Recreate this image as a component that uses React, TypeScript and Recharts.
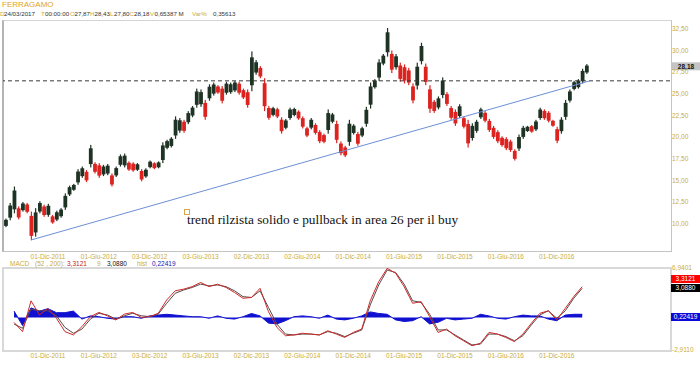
import React from 'react';
import { ComposedChart, Bar, Line, Area, XAxis, YAxis, ReferenceLine } from 'recharts';

// date ticks, one every half year (index = half-month step from July 2011)
const dateTicks = [10, 22, 34, 46, 58, 70, 82, 94, 106, 118, 130];
const dateLabels = [
  '01-Dic-2011', '01-Giu-2012', '03-Dic-2012', '03-Giu-2013', '02-Dic-2013', '02-Giu-2014',
  '01-Dic-2014', '01-Giu-2015', '01-Dic-2015', '01-Giu-2016', '01-Dic-2016'
];

const priceTicks = [10, 12.5, 15, 17.5, 20, 22.5, 25, 27.5, 30, 32.5];

const lows = [
  9.6, 10.4, 11.2, 10.5, 11.4, 11.2, 8.1, 8.5, 11.2, 10.8,
  10.8, 10.0, 10.3, 10.7, 11.6, 13.2, 13.8, 14.5, 15.3, 14.8,
  16.5, 15.8, 15.3, 15.5, 15.6, 14.3, 15.4, 16.6, 16.5, 16.1,
  16.0, 16.1, 14.9, 15.3, 16.4, 16.3, 16.4, 17.0, 18.6, 18.8,
  19.8, 20.5, 20.5, 21.5, 22.3, 23.4, 23.5, 22.0, 24.2, 24.8,
  25.0, 23.9, 24.9, 25.0, 25.2, 24.9, 24.4, 23.4, 25.3, 27.2,
  26.8, 23.0, 22.0, 22.4, 22.2, 20.4, 20.9, 22.0, 22.4, 22.0,
  21.0, 20.0, 20.9, 20.3, 19.3, 19.3, 20.4, 21.6, 19.3, 17.9,
  17.7, 19.0, 20.3, 19.0, 20.0, 21.2, 23.3, 25.6, 26.5, 28.3,
  29.3, 27.4, 27.8, 26.4, 26.2, 26.0, 23.9, 25.5, 28.4, 26.0,
  22.8, 22.8, 23.2, 24.5, 23.6, 22.0, 21.3, 22.2, 21.0, 18.8,
  19.6, 20.5, 22.1, 21.7, 20.6, 19.8, 19.3, 18.9, 18.5, 18.3,
  17.3, 18.4, 19.8, 20.6, 20.5, 20.7, 22.0, 22.0, 21.7, 21.2,
  19.3, 20.4, 22.0, 24.0, 25.4, 25.6, 26.2, 27.3
];
const highs = [
  10.6, 12.4, 14.3, 12.0, 12.5, 12.4, 11.4, 11.8, 12.6, 12.2,
  12.3, 11.0, 11.5, 11.8, 13.5, 14.4, 14.6, 16.3, 16.6, 16.2,
  19.1, 17.1, 17.0, 16.8, 16.9, 15.8, 16.6, 18.0, 18.1, 17.2,
  17.1, 17.0, 16.3, 16.4, 17.3, 17.1, 17.2, 19.4, 19.7, 20.0,
  22.4, 22.2, 22.0, 23.0, 23.6, 25.6, 25.5, 24.3, 26.1, 26.3,
  26.0, 25.9, 26.4, 26.3, 26.5, 26.4, 25.6, 25.5, 29.9, 28.9,
  28.2, 26.8, 23.6, 23.5, 23.4, 22.3, 22.1, 23.4, 23.4, 23.1,
  22.4, 21.2, 22.2, 21.6, 20.8, 20.4, 23.2, 22.8, 21.9, 19.5,
  19.0, 22.0, 21.5, 20.6, 21.2, 23.5, 26.3, 26.7, 29.0, 29.6,
  32.6, 30.0, 29.6, 28.6, 28.4, 28.0, 26.2, 28.6, 30.9, 28.5,
  26.0, 24.3, 24.7, 26.9, 25.2, 23.6, 23.2, 23.8, 22.4, 22.0,
  21.6, 22.0, 23.4, 23.0, 22.1, 21.3, 20.8, 20.1, 20.0, 19.7,
  18.6, 20.3, 21.3, 21.3, 21.4, 22.0, 23.4, 23.2, 23.0, 22.0,
  21.2, 22.3, 24.3, 25.5, 26.5, 26.7, 27.9, 28.43
];

const lastClose = 28.18;
const pullbackLevel = 26.5;
const trendStart = { x: 6, y: 8.12 };
const trendEnd = { x: 137.8, y: 26.5 };

const macdIdx = [
  2, 4, 6, 8, 10, 12, 14, 16, 18, 20, 22, 24, 26, 28, 30, 32, 34, 36, 38, 40,
  42, 44, 46, 48, 50, 52, 54, 56, 58, 60, 62, 64, 66, 68, 70, 72, 74, 76, 78, 80,
  82, 84, 86, 88, 90, 92, 94, 96, 98, 100, 102, 104, 106, 108, 110, 112, 114, 116, 118, 120,
  122, 124, 126, 128, 130, 132, 134, 136
];
const macdVals = [
  0.4, -0.7, 3.0, 1.3, 2.1, 0.9, -0.7, -1.1, -0.1, 1.1,
  1.6, 1.2, 0.7, 1.4, 1.6, 1.0, 1.1, 1.5, 3.1, 4.2,
  4.4, 4.7, 5.2, 4.7, 5.0, 4.6, 4.0, 3.3, 3.4, 4.5,
  1.7, -0.2, -1.2, -1.1, -0.9, -1.0, -1.1, -0.6, -1.0, -1.4,
  -0.8, -0.4, 3.0, 5.3, 6.9, 6.3, 4.7, 2.7, 2.9, 1.1,
  -0.8, -0.4, -1.2, -1.8, -2.4, -2.1, -0.8, -1.0, -1.4, -1.9,
  -1.0, 0.3, 1.5, 1.8, 0.7, 2.1, 3.5, 4.7
];
const signalVals = [
  0.2, -0.3, 2.0, 1.8, 1.8, 1.2, -0.2, -0.9, -0.4, 0.8,
  1.5, 1.3, 0.8, 1.2, 1.5, 1.2, 1.1, 1.4, 2.7, 3.9,
  4.3, 4.6, 5.0, 4.8, 4.9, 4.7, 4.2, 3.5, 3.4, 4.2,
  2.2, 0.2, -1.0, -1.1, -1.0, -1.0, -1.1, -0.7, -0.9, -1.3,
  -0.9, -0.5, 2.5, 4.9, 6.7, 6.4, 5.0, 3.0, 2.8, 1.4,
  -0.5, -0.5, -1.1, -1.7, -2.3, -2.2, -1.0, -1.0, -1.3, -1.8,
  -1.2, 0.1, 1.3, 1.8, 0.9, 1.8, 3.3, 4.5
];
const histVals = [
  0.4, -0.5, 0.6, 0.4, 0.55, 0.3, 0.3, 0.4, -0.1, 0.1,
  0.05, -0.05, -0.1, 0.05, 0.05, -0.05, 0.1, 0.15, 0.2, 0.15,
  0.1, 0.05, 0.05, -0.05, 0.1, -0.05, -0.1, 0.05, 0.25, 0.1,
  -0.35, -0.4, -0.2, 0.05, 0.1, 0.05, -0.05, 0.15, -0.1, -0.15,
  -0.05, 0.1, 0.35, 0.25, 0.2, -0.15, -0.25, -0.2, 0.05, -0.4,
  -0.3, -0.05, -0.15, -0.1, -0.05, 0.2, 0.1, -0.05, -0.1, 0.05,
  0.15, 0.1, 0.1, -0.1, -0.2, 0.15, 0.2, 0.2
];

const candles = lows.map((lo, i) => ({
  i,
  lo,
  hi: highs[i],
  up: i === 0 || lo + highs[i] >= lows[i - 1] + highs[i - 1]
}));

const macdData = macdIdx.map((i, k) => ({
  i,
  macd: macdVals[k],
  signal: signalVals[k],
  hist: histVals[k]
}));

const xDomain = [-0.61, 156.7];
const YELLOW = '#c9ad3e';
const FONT = 'Liberation Sans, Arial, sans-serif';
const tickStyle = { fill: YELLOW, fontSize: 6.5, fontFamily: FONT };

const fmtDate = (v: number) => dateLabels[dateTicks.indexOf(v)] ?? '';
const fmtNum = (d: number) => (v: number) => v.toFixed(d).replace('.', ',');

// thin candle: a wick plus a narrow body, centred on the slot
const CandleShape = (props: any) => {
  const { x, y, width, height, payload } = props;
  const top = height < 0 ? y + height : y;
  const h = Math.max(Math.abs(height), 1);
  const cx = x + width / 2;
  const color = payload.up ? '#1f3324' : '#dc2320';
  return (
    <g>
      <rect x={cx - 0.6} y={top} width={1.2} height={h} fill={color} />
      <rect x={cx - 1.9} y={top + h * 0.15} width={3.8} height={Math.max(h * 0.7, 1)} fill={color} />
    </g>
  );
};

const PriceTag = (props: any) => {
  const { viewBox } = props;
  const x = viewBox.x + viewBox.width + 1;
  return (
    <g>
      <rect x={x} y={viewBox.y - 4} width={29} height={8} fill="#c4c4c4" />
      <text x={x + 15} y={viewBox.y + 2.4} textAnchor="middle" fontSize={6.5} fontWeight="bold" fontFamily={FONT} fill="#111">
        {lastClose.toFixed(2).replace('.', ',')}
      </text>
    </g>
  );
};

const abs = (left: number, top: number): React.CSSProperties => ({ position: 'absolute', left, top, whiteSpace: 'nowrap' });

const headerItems: [number, string, string][] = [
  [0, 'D', YELLOW], [4, '24/03/2017', '#333'], [41, 'T', YELLOW], [45, '00:00:00', '#333'],
  [70, 'O', YELLOW], [74.5, '27,87', '#333'], [90, 'H', YELLOW], [94.5, '28,43', '#333'],
  [110, 'L', YELLOW], [114, '27,80', '#333'], [129.5, 'C', YELLOW], [134, '28,18', '#333'],
  [150, 'V', YELLOW], [154.5, '0,65387 M', '#333'], [192, 'Var%', YELLOW], [213, '0,35613', '#333']
];

const macdHeader: [number, string, string][] = [
  [10, 'MACD', YELLOW], [35, '(52 , 200):', YELLOW], [67, '3,3121', '#c01818'], [97, '9', YELLOW],
  [107, '3,0880', '#111'], [137, 'hist', YELLOW], [152, '0,22419', '#1414b4']
];

export default function App() {
  return (
    <div style={{ position: 'absolute', left: 0, top: 0, width: 700, height: 365, background: '#fff', fontFamily: FONT, overflow: 'hidden' }}>
      <div style={{ ...abs(2, 0), fontSize: 8, color: '#e0a41c' }}>FERRAGAMO</div>
      {headerItems.map(([l, t, c], k) => (
        <div key={k} style={{ ...abs(l, 9.5), fontSize: 6.2, color: c }}>{t}</div>
      ))}

      {/* panel frames */}
      <div style={{ position: 'absolute', left: 2, top: 20, width: 667, height: 230, borderTop: '1px solid #d4d4d4', borderRight: '1px solid #c4c4c4', borderBottom: '1px solid #c4c4c4', borderLeft: '2px solid #b4b4b4' }} />
      <div style={{ position: 'absolute', left: 2, top: 267, width: 666, height: 81, border: '2px solid #d8d8d8' }} />

      <div style={{ position: 'absolute', left: 0, top: 0 }}>
        <ComposedChart width={700} height={262} data={candles} margin={{ top: 21, right: 0, bottom: 0, left: 3 }}>
          <XAxis type="number" dataKey="i" domain={xDomain} ticks={dateTicks} tickFormatter={fmtDate}
            interval={0} height={11} axisLine={false} tickLine={false} tickSize={0} tickMargin={3} tick={tickStyle} allowDataOverflow />
          <YAxis orientation="right" width={30} domain={[6.85, 33.41]} ticks={priceTicks} tickFormatter={fmtNum(2)}
            interval={0} axisLine={false} tickLine={false} tickSize={0} tickMargin={2} tick={tickStyle} allowDataOverflow />
          <ReferenceLine y={pullbackLevel} stroke="#3a3a3a" strokeDasharray="4 3" />
          <ReferenceLine segment={[trendStart, trendEnd]} stroke="#6d8fd6" strokeWidth={1} />
          <Bar dataKey={(d: any) => [d.lo, d.hi]} barSize={3} shape={CandleShape} isAnimationActive={false} />
          <ReferenceLine y={lastClose} stroke="none" label={<PriceTag />} />
        </ComposedChart>
      </div>

      {/* annotation */}
      <div style={{ position: 'absolute', left: 184, top: 209, width: 4, height: 4, border: '1px solid #d9a646' }} />
      <div style={{ ...abs(187, 212), fontFamily: 'Liberation Serif, Times New Roman, serif', fontSize: 13.3, lineHeight: '16px', color: '#111' }}>
        trend rilzista solido e pullback in area 26 per il buy
      </div>

      {macdHeader.map(([l, t, c], k) => (
        <div key={k} style={{ ...abs(l, 259.5), fontSize: 6.5, color: c }}>{t}</div>
      ))}

      <div style={{ position: 'absolute', left: 0, top: 260 }}>
        <ComposedChart width={700} height={105} data={macdData} margin={{ top: 8, right: 0, bottom: 0, left: 3 }}>
          <XAxis type="number" dataKey="i" domain={xDomain} ticks={dateTicks} tickFormatter={fmtDate}
            interval={0} height={15} axisLine={false} tickLine={false} tickSize={0} tickMargin={3} tick={tickStyle} allowDataOverflow />
          <YAxis yAxisId="m" orientation="right" width={30} domain={[-2.911, 6.9401]} ticks={[6.9401, -2.911]}
            tickFormatter={fmtNum(4)} interval={0} axisLine={false} tickLine={false} tickSize={0} tickMargin={2} tick={tickStyle} allowDataOverflow />
          <YAxis yAxisId="h" hide domain={[-2.03, 3.09]} allowDataOverflow />
          <Area yAxisId="h" type="linear" dataKey="hist" baseValue={0} fill="#1010d0" fillOpacity={1} stroke="#1010d0" strokeWidth={1} isAnimationActive={false} />
          <Line yAxisId="m" type="linear" dataKey="signal" stroke="#5a4a4a" strokeWidth={1} dot={false} isAnimationActive={false} />
          <Line yAxisId="m" type="linear" dataKey="macd" stroke="#cc2a2a" strokeWidth={1} dot={false} isAnimationActive={false} />
        </ComposedChart>
      </div>

      {/* last value tags of the MACD panel */}
      <div style={{ ...abs(671, 275), width: 29, height: 8, background: '#ff0000', color: '#fff', fontSize: 6.5, lineHeight: '8px', textAlign: 'center' }}>3,3121</div>
      <div style={{ ...abs(671, 284), width: 29, height: 8, background: '#000', color: '#fff', fontSize: 6.5, lineHeight: '8px', textAlign: 'center' }}>3,0880</div>
      <div style={{ ...abs(671, 313), width: 29, height: 8, background: '#0a0ad8', color: '#fff', fontSize: 6.5, lineHeight: '8px', textAlign: 'center' }}>0,22419</div>
    </div>
  );
}
